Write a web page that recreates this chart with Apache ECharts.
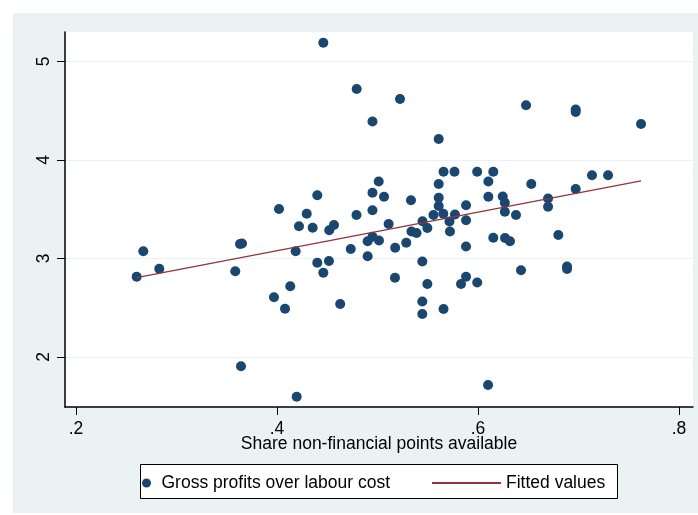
<!DOCTYPE html>
<html>
<head>
<meta charset="utf-8">
<script src="https://cdn.jsdelivr.net/npm/echarts@6/dist/echarts.min.js"></script>
<style>
  html, body { margin: 0; padding: 0; background: #ffffff; }
  #chart { width: 698px; height: 515px; }
</style>
</head>
<body>
<div id="chart"></div>
<script>
// Share of non-financial points available (x) vs gross profits over labour cost (y)
const shareAvailable = [
  0.2604, 0.2670, 0.2829, 0.3585, 0.3632, 0.3652, 0.3642, 0.4020, 0.3970, 0.4080,
  0.4132, 0.4186, 0.4219, 0.4296, 0.4355, 0.4401, 0.4196, 0.4401, 0.4461, 0.4517,
  0.4461, 0.4520, 0.4567, 0.4629, 0.4734, 0.4791, 0.4793, 0.4902, 0.4950, 0.5015,
  0.4902, 0.4950, 0.4950, 0.5012, 0.4950, 0.5065, 0.5111, 0.5176, 0.5174, 0.5224,
  0.5286, 0.5333, 0.5338, 0.5388, 0.5448, 0.5446, 0.5446, 0.5446, 0.5496, 0.5496,
  0.5557, 0.5609, 0.5609, 0.5609, 0.5609, 0.5657, 0.5655, 0.5657, 0.5716, 0.5721,
  0.5766, 0.5771, 0.5831, 0.5881, 0.5881, 0.5881, 0.5881, 0.5992, 0.5992, 0.6103,
  0.6103, 0.6100, 0.6152, 0.6152, 0.6246, 0.6267, 0.6267, 0.6269, 0.6318, 0.6378,
  0.6428, 0.6478, 0.6530, 0.6697, 0.6697, 0.6799, 0.6886, 0.6886, 0.6972, 0.6972,
  0.6972, 0.7134, 0.7294, 0.7622
];
const grossProfits = [
  2.815, 3.073, 2.896, 2.870, 3.147, 3.152, 1.906, 3.503, 2.606, 2.490,
  2.718, 3.073, 3.327, 3.455, 3.313, 3.642, 1.597, 2.957, 2.856, 2.975,
  5.191, 3.286, 3.340, 2.538, 3.096, 3.442, 4.721, 3.175, 3.221, 3.183,
  3.022, 3.490, 3.668, 3.782, 4.391, 3.627, 3.350, 3.110, 2.805, 4.619,
  3.160, 3.592, 3.274, 3.259, 3.379, 2.970, 2.563, 2.437, 3.310, 2.741,
  3.442, 4.213, 3.756, 3.617, 3.533, 3.881, 3.455, 2.487, 3.376, 3.274,
  3.881, 3.447, 2.741, 3.541, 3.389, 3.122, 2.815, 3.881, 2.756, 3.782,
  3.627, 1.716, 3.881, 3.211, 3.629, 3.566, 3.475, 3.208, 3.176, 3.442,
  2.881, 4.555, 3.756, 3.609, 3.526, 3.239, 2.919, 2.893, 3.706, 4.513,
  4.487, 3.846, 3.846, 4.365
];

// Linear fit endpoints
const fittedX = [0.2604, 0.7622];
const fittedY = [2.805, 3.787];

// Axis ticks
const xTicks = [0.2, 0.4, 0.6, 0.8];
const xTickLabels = ['.2', '.4', '.6', '.8'];
const yTicks = [2, 3, 4, 5];
const yTickLabels = ['2', '3', '4', '5'];

const seriesNames = ['Gross profits over labour cost', 'Fitted values'];
const xTitle = 'Share non-financial points available';

const navy = '#1a476f';
const maroon = '#90353b';
const panel = '#eaf2f3';
const font = 'Liberation Sans, Arial, sans-serif';
const fs = 17.5;

const scatterData = shareAvailable.map((x, i) => [x, grossProfits[i]]);
const fitData = fittedX.map((x, i) => [x, fittedY[i]]);

const chart = echarts.init(document.getElementById('chart'), null, { renderer: 'canvas' });
chart.setOption({
  animation: false,
  backgroundColor: 'transparent',
  textStyle: { fontFamily: font },
  graphic: {
    elements: [
      { type: 'rect', z: -100, silent: true,
        shape: { x: 13, y: 13, width: 685, height: 500 },
        style: { fill: panel } },
      { type: 'rect', z: -50, silent: true,
        shape: { x: 140.5, y: 464.5, width: 477, height: 34 },
        style: { fill: '#ffffff', stroke: '#000000', lineWidth: 1 } }
    ]
  },
  grid: {
    left: 65, top: 32, right: 5, bottom: 108,
    show: true, backgroundColor: '#ffffff', borderWidth: 0
  },
  xAxis: {
    type: 'value',
    min: 0.1891, max: 0.8139,
    name: xTitle,
    nameLocation: 'middle',
    nameGap: 28,
    nameMoveOverlap: false,
    nameTextStyle: { fontSize: fs, color: '#000', fontFamily: font },
    axisLine: { show: true, onZero: false, lineStyle: { color: '#000', width: 1.5 } },
    axisTick: { show: true, length: 8, customValues: xTicks, lineStyle: { color: '#000', width: 1 } },
    axisLabel: {
      customValues: xTicks,
      margin: 13, fontSize: fs, color: '#000', fontFamily: font,
      formatter: v => xTickLabels[xTicks.findIndex(t => Math.abs(t - v) < 1e-9)]
    },
    splitLine: { show: false }
  },
  yAxis: {
    type: 'value',
    min: 1.4924, max: 5.2995,
    axisLine: { show: true, onZero: false, lineStyle: { color: '#000', width: 1.5 } },
    axisTick: { show: true, length: 8, customValues: yTicks, lineStyle: { color: '#000', width: 1 } },
    axisLabel: {
      customValues: yTicks,
      rotate: 90, margin: 12, fontSize: fs, color: '#000', fontFamily: font,
      formatter: v => yTickLabels[yTicks.findIndex(t => Math.abs(t - v) < 1e-9)]
    },
    splitLine: { show: true, lineStyle: { color: panel, width: 1 } }
  },
  legend: [
    {
      data: [seriesNames[0]],
      left: 142, top: 474, padding: 0,
      itemWidth: 20, itemHeight: 9,
      icon: 'circle',
      textStyle: { fontSize: fs, color: '#000', fontFamily: font }
    },
    {
      data: [seriesNames[1]],
      left: 431, top: 474, padding: 0,
      itemWidth: 69, itemHeight: 9,
      itemStyle: { opacity: 0 },
      textStyle: { fontSize: fs, color: '#000', fontFamily: font }
    }
  ],
  series: [
    {
      name: seriesNames[0],
      type: 'scatter',
      data: scatterData,
      symbol: 'circle',
      symbolSize: 10,
      itemStyle: { color: navy, opacity: 1 }
    },
    {
      name: seriesNames[1],
      type: 'line',
      data: fitData,
      symbol: 'none',
      showSymbol: false,
      lineStyle: { color: maroon, width: 1.3 },
      itemStyle: { color: maroon }
    }
  ]
});
</script>
</body>
</html>
